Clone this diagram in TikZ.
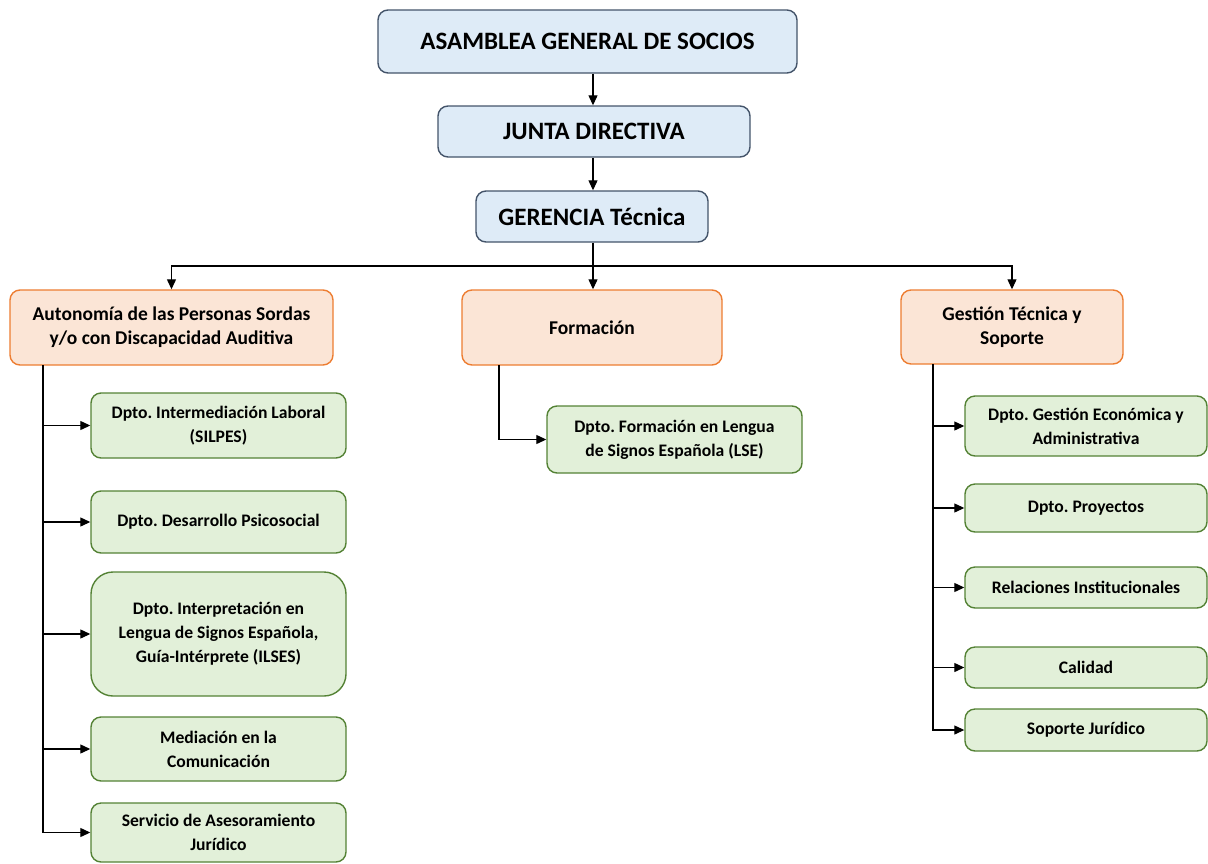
\documentclass[tikz,border=0pt]{standalone}
\usepackage{fontspec}
\setmainfont{Carlito}
\usetikzlibrary{arrows.meta}
\definecolor{bluefill}{HTML}{DEEBF7}
\definecolor{blueline}{HTML}{44546A}
\definecolor{orfill}{HTML}{FBE5D6}
\definecolor{orline}{HTML}{ED7D31}
\definecolor{grfill}{HTML}{E2F0D9}
\definecolor{grline}{HTML}{548235}
\tikzset{
  base/.style={inner sep=0pt, align=center, line width=1.4pt, rounded corners=10pt},
  bluebox/.style={base, draw=blueline, fill=bluefill, font=\fontsize{25}{29}\selectfont\bfseries},
  orbox/.style={base, draw=orline, fill=orfill, font=\fontsize{19.5}{24}\selectfont\bfseries},
  grbox/.style={base, draw=grline, fill=grfill, font=\fontsize{17.6}{24}\selectfont\bfseries},
  arr/.style={line width=1.2pt, -{Triangle[length=10pt,width=9pt]}},
  ln/.style={line width=1.2pt}
}
\newcommand{\bx}[7]{\node[#1, minimum width=#4pt-#2pt, minimum height=#5pt-#3pt, #6] (#7) at ({(#2+#4)/2},{(#3+#5)/2})}
\begin{document}
\frenchspacing
\begin{tikzpicture}[x=1pt,y=-1pt]
\useasboundingbox (0,0) rectangle (1208,863);
\bx{bluebox}{378}{10}{797}{73}{}{asam} {ASAMBLEA GENERAL DE SOCIOS};
\bx{bluebox}{438}{106}{750}{157}{}{junta} {JUNTA DIRECTIVA};
\bx{bluebox}{476}{191}{708}{242}{}{ger} {GERENCIA Técnica};

\bx{orbox}{10}{290}{333}{365}{}{auto} {Autonomía de las Personas Sordas\\y/o con Discapacidad Auditiva};
\bx{orbox}{462}{290}{722}{365}{}{form} {Formación};
\bx{orbox}{901}{290}{1123}{364}{}{gest} {Gestión Técnica y\\Soporte};

\bx{grbox}{91}{393}{346}{458}{}{a1} {Dpto. Intermediación Laboral\\(SILPES)};
\bx{grbox}{91}{491}{346}{553}{}{a2} {Dpto. Desarrollo Psicosocial};
\bx{grbox}{91}{572}{346}{696}{rounded corners=22pt}{a3} {Dpto. Interpretación en\\Lengua de Signos Española,\\Guía-Intérprete (ILSES)};
\bx{grbox}{91}{717}{346}{781}{}{a4} {Mediación en la\\Comunicación};
\bx{grbox}{91}{803}{346}{862}{}{a5} {Servicio de Asesoramiento\\Jurídico};

\bx{grbox}{547}{406}{802}{473}{}{f1} {Dpto. Formación en Lengua\\de Signos Española (LSE)};

\bx{grbox}{965}{396}{1207}{456}{}{g1} {Dpto. Gestión Económica y\\Administrativa};
\bx{grbox}{965}{484}{1207}{532}{}{g2} {Dpto. Proyectos};
\bx{grbox}{965}{567}{1207}{608}{}{g3} {Relaciones Institucionales};
\bx{grbox}{965}{647}{1207}{688}{}{g4} {Calidad};
\bx{grbox}{965}{709}{1207}{751}{}{g5} {Soporte Jurídico};

\draw[arr] (asam.south -| 593,0) -- (junta.north -| 593,0);
\draw[arr] (junta.south -| 593,0) -- (ger.north -| 593,0);
\coordinate (bus) at (593,266);
\draw[ln] (ger.south -| 593,0) -- (bus);
\draw[arr] (bus) -| (auto.north);
\draw[arr] (bus) -- (bus |- form.north);
\draw[arr] (bus) -| (gest.north);

\coordinate (al) at (43,365);
\foreach \c in {a1,a2,a3,a4,a5} \draw[arr] (al) |- (\c.west);
\coordinate (fl) at (499,365);
\draw[arr] (fl) |- (f1.west);
\coordinate (gl) at (933,364);
\foreach \c in {g1,g2,g3,g4,g5} \draw[arr] (gl) |- (\c.west);
\end{tikzpicture}
\end{document}
